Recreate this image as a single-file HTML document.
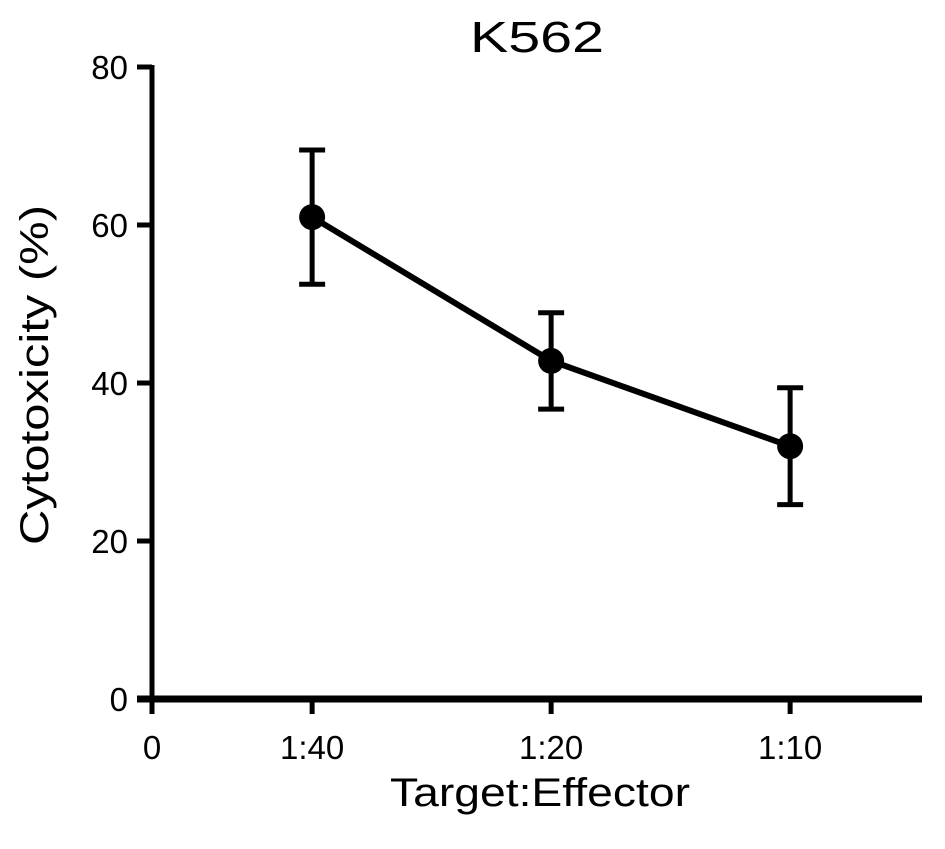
<!DOCTYPE html>
<html><head><meta charset="utf-8"><style>
html,body{margin:0;padding:0;background:#fff;}
svg{display:block;font-family:"Liberation Sans",Arial,sans-serif;}
</style></head><body>
<svg id="chart" width="945" height="849" viewBox="0 0 945 849">
<text x="537" y="52" font-size="44" text-anchor="middle" textLength="134" lengthAdjust="spacingAndGlyphs">K562</text>
<text transform="translate(48,375) rotate(-90)" font-size="40" text-anchor="middle" textLength="340" lengthAdjust="spacingAndGlyphs">Cytotoxicity (%)</text>
<text x="540" y="806" font-size="40" text-anchor="middle" textLength="300" lengthAdjust="spacingAndGlyphs">Target:Effector</text>
<g id="axes"></g>
<g id="marks"></g>
</svg>
<script>
const categories = ["1:40", "1:20", "1:10"];
const catPos = [0.67, 1.67, 2.67];
const means = [61, 42.8, 32];
const errs = [8.5, 6.1, 7.4];
const yTicks = [0, 20, 40, 60, 80];
const xZeroLabel = "0";

const NS = "http://www.w3.org/2000/svg";
const X0 = 152, XU = 239, XEND = 922;
const Y0 = 699, YU = (699 - 67) / 80;
function sx(v){ return X0 + v * XU; }
function sy(v){ return Y0 - v * YU; }
function mk(tag, attrs, parent){
  const e = document.createElementNS(NS, tag);
  for (const k in attrs) e.setAttribute(k, attrs[k]);
  parent.appendChild(e); return e;
}
const axes = document.getElementById('axes');
const marks = document.getElementById('marks');
const sw = 5;

let yAxis = mk('line', {x1:X0, y1:sy(80)-2, x2:X0, y2:Y0+14, stroke:'#000','stroke-width':sw}, axes);


let xAxis = mk('line', {x1:X0-15, y1:Y0, x2:XEND, y2:Y0, stroke:'#000','stroke-width':7}, axes);



yTicks.forEach(t => {
  const tk = mk('line', {x1:X0-15, y1:sy(t), x2:X0, y2:sy(t), stroke:'#000','stroke-width':sw}, axes);
  
  
  const lb = mk('text', {x:X0-24, y:sy(t)+12, 'font-size':33, 'text-anchor':'end'}, axes);
  lb.textContent = t;
  
  
});
const xTickVals = [0].concat(catPos);
const xTickLabels = [xZeroLabel].concat(categories);
xTickVals.forEach((v, i) => {
  const tk = mk('line', {x1:sx(v), y1:Y0, x2:sx(v), y2:Y0+15, stroke:'#000','stroke-width':sw}, axes);
  
  
  const lb = mk('text', {x:sx(v), y:Y0+60, 'font-size':33, 'text-anchor':'middle'}, axes);
  lb.textContent = xTickLabels[i];
  
  
});

const pts = means.map((m, i) => sx(catPos[i]) + ',' + sy(m)).join(' ');
const line = mk('polyline', {points:pts, fill:'none', stroke:'#000', 'stroke-width':6}, marks);



means.forEach((m, i) => {
  const x = sx(catPos[i]);
  const g = mk('g', {}, marks);
  
  
  mk('line', {x1:x, y1:sy(m+errs[i]), x2:x, y2:sy(m-errs[i]), stroke:'#000','stroke-width':sw}, g);
  mk('line', {x1:x-13, y1:sy(m+errs[i]), x2:x+13, y2:sy(m+errs[i]), stroke:'#000','stroke-width':sw}, g);
  mk('line', {x1:x-13, y1:sy(m-errs[i]), x2:x+13, y2:sy(m-errs[i]), stroke:'#000','stroke-width':sw}, g);
  const c = mk('circle', {cx:x, cy:sy(m), r:13, fill:'#000'}, marks);
  
  
});
</script>
</body></html>
